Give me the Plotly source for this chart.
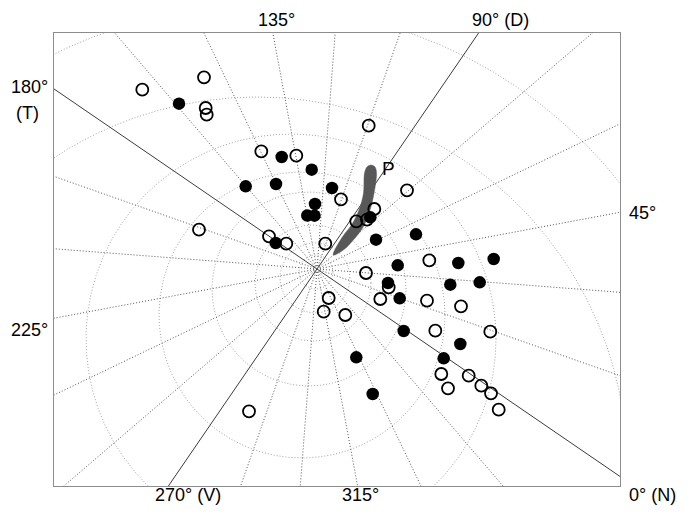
import numpy as np
import plotly.graph_objects as go

# ---------------- data (projection-plane coordinates, pole at origin, y up) ----------------
spoke_az = list(range(0, 360, 15))          # meridians every 15 deg
main_az = [0, 90, 180, 270]                 # drawn solid
rotation_deg = -34.4                        # display direction of azimuth 0 (counter-clockwise)

# parallels: centre u, centre v, radius
ring_cu = [-1, -2, -4, -8, -15, -26, -60, -60]
ring_cv = [-3, -9, -14, -20, -46, -70, -198, -200]
ring_r = [17, 35, 58, 97, 143, 205, 370, 462]

open_u = [-174.7, -113, -111.3, -110.3, -55.7, -20.7, -118, -48, -30.7, 51.7, 90, 24,
          57.3, 39.3, 50, 8.3, 112.3, 49, 71.7, 63.3, 110, 144, 11.7, 6.7, 28.3, 118.3,
          173.3, 124.3, 151.7, 131, 164.3, 174, 181.7, -68]
open_v = [179.3, 191.7, 161, 154.3, 117.7, 113.3, 39.3, 32.7, 25.3, 143.3, 78.7, 69.7,
          60, 47.7, 49.3, 25.3, 8.7, -4, -18.3, -30, -31.7, -37.3, -29, -42.7, -46, -61.7,
          -62.7, -105, -106.7, -119.3, -116.7, -124.3, -140.7, -142.3]

fill_u = [-138, -35.3, -5.3, -71.3, -41, -2, -9.7, -2.5, -41.3, 15, 53.3, 59, 99, 80.7,
          141.3, 176.7, 71, 133.3, 162.7, 82.7, 86.7, 143.3, 126.7, 39.3, 55.7]
fill_v = [165.3, 112, 99.3, 82.7, 85, 65, 53.5, 53.3, 26, 81, 51.7, 29.3, 34.7, 3.7,
          6, 10, -14, -15.7, -13.3, -29.3, -62, -75, -89.3, -88.3, -125]

blob_u = [16.3, 26.3, 36.3, 46.3, 53, 57, 59.5, 58, 54, 50, 47.5, 46.5, 42, 34.5, 24.5, 16.3]
blob_v = [14, 19, 29, 42.3, 59, 75.7, 95.7, 102, 104, 102, 95.7, 75.7, 59, 44, 30.7, 14]

axis_labels = ["135°", "90° (D)", "180°", "(T)", "45°", "225°", "270° (V)", "315°", "0° (N)"]
label_px = [(276, 20), (501, 20), (29, 87), (27, 113), (642, 213), (29, 330),
            (188, 495), (360, 495), (652, 495)]

# ---------------- layout geometry ----------------
PAGE_OFF = 8                      # default body margin of the html page
W, H = 692 - PAGE_OFF, 516 - PAGE_OFF
L0, R0, T0, B0 = 54, 620, 33, 486  # frame in the screenshot
L, R, T, B = L0 - PAGE_OFF, R0 - PAGE_OFF, T0 - PAGE_OFF, B0 - PAGE_OFF
x_range = [-263, 303]
y_range = [-217, 236]

fig = go.Figure()

# parallels
t = np.linspace(0, 2 * np.pi, 1441)
for cu, cv, rr in zip(ring_cu, ring_cv, ring_r):
    fig.add_trace(go.Scatter(x=cu + rr * np.cos(t), y=cv + rr * np.sin(t), mode="lines",
                             line=dict(color="#a3a3a3", width=1, dash="1px,2px"),
                             hoverinfo="skip", showlegend=False))

# meridians
for az in spoke_az:
    d = np.deg2rad(az + rotation_deg)
    solid = az in main_az
    fig.add_trace(go.Scatter(x=[0, 900 * np.cos(d)], y=[0, 900 * np.sin(d)], mode="lines",
                             line=dict(color="#3c3c3c" if solid else "#555555",
                                       width=1 if solid else 1,
                                       dash="solid" if solid else "1px,2px"),
                             hoverinfo="skip", showlegend=False))

# shaded region
fig.add_trace(go.Scatter(x=blob_u, y=blob_v, mode="lines", fill="toself",
                         fillcolor="#585858", line=dict(color="#585858", width=0.5, shape="spline"),
                         hoverinfo="skip", showlegend=False))

# open and filled points
fig.add_trace(go.Scatter(x=open_u, y=open_v, mode="markers",
                         marker=dict(symbol="circle-open", size=12, color="black",
                                     line=dict(width=1.8, color="black")),
                         showlegend=False))
fig.add_trace(go.Scatter(x=fill_u, y=fill_v, mode="markers",
                         marker=dict(symbol="circle", size=12.5, color="black",
                                     line=dict(width=0)),
                         showlegend=False))

fig.add_annotation(x=71, y=101, xref="x", yref="y", text="P", showarrow=False,
                   font=dict(family="Liberation Sans, Arial", size=19, color="black"))

for txt, (px, py) in zip(axis_labels, label_px):
    fig.add_annotation(x=(px - L0) / (R0 - L0), y=(B0 - py) / (B0 - T0),
                       xref="paper", yref="paper", text=txt, showarrow=False,
                       xanchor="center", yanchor="middle",
                       font=dict(family="Liberation Sans, Arial", size=18, color="black"))

fig.update_xaxes(range=x_range, showgrid=False, zeroline=False, showticklabels=False,
                 ticks="", showline=True, mirror=True, linecolor="#8c8c8c", linewidth=1.3)
fig.update_yaxes(range=y_range, showgrid=False, zeroline=False, showticklabels=False,
                 ticks="", showline=True, mirror=True, linecolor="#8c8c8c", linewidth=1.3)

fig.update_layout(width=W, height=H, margin=dict(l=L, r=W - R, t=T, b=H - B),
                  paper_bgcolor="white", plot_bgcolor="white")

fig.write_html("out.html")
